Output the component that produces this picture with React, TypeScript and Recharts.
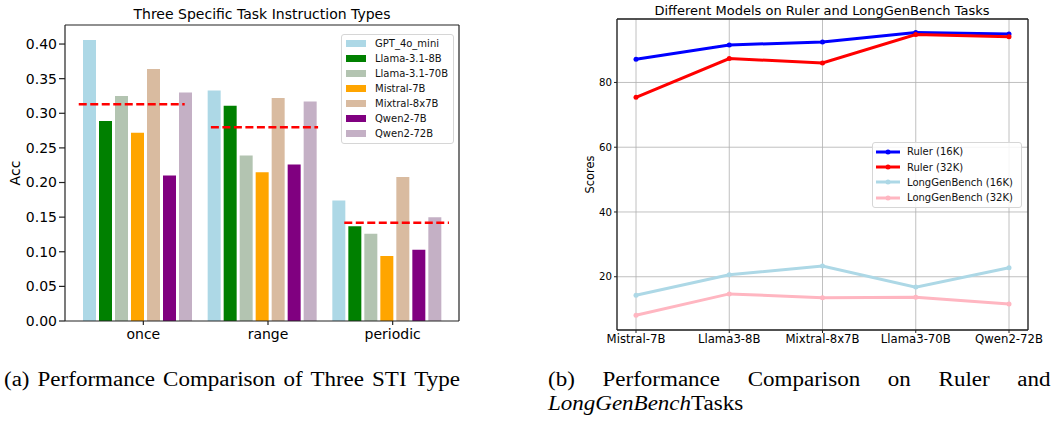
import React from 'react';
import {
  ComposedChart,
  Bar,
  Scatter,
  XAxis,
  YAxis,
  Legend,
  LineChart,
  Line,
  CartesianGrid,
} from 'recharts';

const FONT = '"DejaVu Sans", Verdana, sans-serif';
const SERIF = '"Liberation Serif", "Times New Roman", serif';
const SPINE = '#222';

// (a) accuracy for each STI type
const stiTypes = ['once', 'range', 'periodic'];
const stiModels = [
  'GPT_4o_mini',
  'Llama-3.1-8B',
  'Llama-3.1-70B',
  'Mistral-7B',
  'Mixtral-8x7B',
  'Qwen2-7B',
  'Qwen2-72B',
];
const stiColors = ['#add8e6', '#008000', '#b3c4b1', '#ffa500', '#d9bba0', '#800080', '#c4b0c5'];
const gpt4oMiniAcc = [0.406, 0.333, 0.174];
const llama8bAcc = [0.289, 0.311, 0.137];
const llama70bAcc = [0.325, 0.239, 0.126];
const mistral7bAcc = [0.272, 0.215, 0.094];
const mixtralAcc = [0.364, 0.322, 0.208];
const qwen7bAcc = [0.21, 0.226, 0.103];
const qwen72bAcc = [0.33, 0.317, 0.15];
const stiAverage = [0.313, 0.28, 0.142];
// where each average dash starts / ends, in category units
const avgFrom = [-0.47, 0.59, 1.66];
const avgTo = [0.38, 1.45, 2.51];
const accTicks = [0, 0.05, 0.1, 0.15, 0.2, 0.25, 0.3, 0.35, 0.4];

// (b) Ruler vs LongGenBench
const benchModels = ['Mistral-7B', 'Llama3-8B', 'Mixtral-8x7B', 'Llama3-70B', 'Qwen2-72B'];
const ruler16k = [87.2, 91.6, 92.5, 95.4, 95.0];
const ruler32k = [75.4, 87.4, 86.0, 94.8, 94.1];
const longGen16k = [14.3, 20.6, 23.3, 16.8, 22.8];
const longGen32k = [8.1, 14.7, 13.5, 13.7, 11.6];
const benchSeries = ['Ruler (16K)', 'Ruler (32K)', 'LongGenBench (16K)', 'LongGenBench (32K)'];
const benchColors = ['#0000ff', '#ff0000', '#add8e6', '#ffb6c1'];
const scoreTicks = [20, 40, 60, 80];

const stiValues = [gpt4oMiniAcc, llama8bAcc, llama70bAcc, mistral7bAcc, mixtralAcc, qwen7bAcc, qwen72bAcc];
const stiRows = stiTypes.map((type, i) => {
  const row: Record<string, string | number> = { type };
  stiValues.forEach((vals, j) => {
    row[`s${j}`] = vals[i];
  });
  return row;
});
const avgSegments = stiAverage.map((avg, i) => [
  { x: avgFrom[i], y: avg },
  { x: avgTo[i], y: avg },
]);

const benchValues = [ruler16k, ruler32k, longGen16k, longGen32k];
const benchRows = benchModels.map((model, i) => {
  const row: Record<string, string | number> = { model };
  benchValues.forEach((vals, j) => {
    row[`b${j}`] = vals[i];
  });
  return row;
});

const sideTitle = (text: string, dx: number, size: number) => (props: any) => {
  const vb = props.viewBox || {};
  const x = vb.x + dx;
  const y = vb.y + vb.height / 2;
  return (
    <text
      x={x}
      y={y}
      transform={`rotate(-90, ${x}, ${y})`}
      textAnchor="middle"
      dominantBaseline="central"
      fontSize={size}
      fontFamily={FONT}
      fill="#000"
    >
      {text}
    </text>
  );
};

// matplotlib put the tick a little right of the bar group centre
const ShiftedTick = (props: any) => {
  const { x, y, payload } = props;
  const tx = x + 6;
  return (
    <g>
      <line x1={tx} x2={tx} y1={y - 8} y2={y - 4} stroke={SPINE} strokeWidth={1.2} />
      <text x={tx} y={y} dy="0.71em" textAnchor="middle" fontSize={14} fontFamily={FONT} fill="#000">
        {payload.value}
      </text>
    </g>
  );
};

// frame axes (top / right spines) show only their line
const NoTick = () => <g />;

// keep legend rows in series order (recharts sorts them by name)
const inOrder = (payload: any[] = [], names: string[]) =>
  payload
    .filter((p) => names.includes(p.value))
    .sort((a, b) => names.indexOf(a.value) - names.indexOf(b.value));

const legendBox: React.CSSProperties = {
  boxSizing: 'border-box',
  border: '1px solid #d6d6d6',
  borderRadius: 3,
  background: 'rgba(255,255,255,0.85)',
  fontFamily: FONT,
  fontSize: 10,
  color: '#111',
};

const BarLegend = ({ payload }: any) => (
  <div style={{ ...legendBox, width: 113, padding: '1px 4px 2px 4px' }}>
    {inOrder(payload, stiModels).map((p: any) => (
      <div key={p.value} style={{ display: 'flex', alignItems: 'center', height: 15 }}>
        <span style={{ display: 'inline-block', width: 20, height: 7, background: p.color, marginRight: 9 }} />
        {p.value}
      </div>
    ))}
  </div>
);

const LineLegend = ({ payload }: any) => (
  <div style={{ ...legendBox, width: 150, padding: '1px 4px 1px 3px' }}>
    {inOrder(payload, benchSeries).map((p: any) => (
      <div key={p.value} style={{ display: 'flex', alignItems: 'center', height: 15.4 }}>
        <svg width={24} height={8} style={{ marginRight: 7 }}>
          <line x1={0} x2={24} y1={4} y2={4} stroke={p.color} strokeWidth={3} />
          <circle cx={12} cy={4} r={2.5} fill={p.color} />
        </svg>
        {p.value}
      </div>
    ))}
  </div>
);

const NoDot = () => <g />;

function StiChart() {
  return (
    <div style={{ position: 'absolute', left: 0, top: 0 }}>
      <ComposedChart
        width={480}
        height={345}
        data={stiRows}
        margin={{ top: 24, right: 20, bottom: 0, left: 10 }}
        barGap={3}
      >
        <XAxis
          dataKey="type"
          height={24}
          padding={{ left: 10, right: 10 }}
          tickLine={false}
          tickSize={3}
          tickMargin={5}
          tick={<ShiftedTick />}
          axisLine={{ stroke: SPINE, strokeWidth: 1.2 }}
        />
        <XAxis
          xAxisId="avg"
          dataKey="x"
          type="number"
          orientation="top"
          domain={[-0.5, 2.5]}
          ticks={[0, 1, 2]}
          padding={{ left: 10, right: 10 }}
          height={1}
          tick={<NoTick />}
          tickLine={false}
          axisLine={{ stroke: SPINE, strokeWidth: 1.2 }}
          allowDataOverflow
        />
        <YAxis
          width={55}
          domain={[0, 0.4275]}
          ticks={accTicks}
          tickFormatter={(v: number) => v.toFixed(2)}
          tick={{ fontSize: 14, fontFamily: FONT, fill: '#000' }}
          tickSize={6}
          tickMargin={2}
          tickLine={{ stroke: SPINE, strokeWidth: 1.2 }}
          axisLine={{ stroke: SPINE, strokeWidth: 1.2 }}
          label={{ content: sideTitle('Acc', 5, 14) }}
        />
        <YAxis
          yAxisId="frame"
          orientation="right"
          width={1}
          domain={[0, 0.4275]}
          ticks={accTicks}
          tick={<NoTick />}
          tickLine={false}
          axisLine={{ stroke: SPINE, strokeWidth: 1.2 }}
        />
        {stiModels.map((name, j) => (
          <Bar
            key={name}
            dataKey={`s${j}`}
            name={name}
            fill={stiColors[j]}
            barSize={13}
            isAnimationActive={false}
          />
        ))}
        {avgSegments.map((seg, i) => (
          <Scatter
            key={stiTypes[i]}
            name={`avg-${stiTypes[i]}`}
            data={seg}
            xAxisId="avg"
            dataKey="y"
            legendType="none"
            shape={<NoDot />}
            line={{ stroke: '#ff0000', strokeWidth: 2.5, strokeDasharray: '8 3.5' }}
            isAnimationActive={false}
          />
        ))}
        <Legend
          layout="vertical"
          align="center"
          verticalAlign="middle"
          content={<BarLegend />}
          wrapperStyle={{ left: 341, top: 34, width: 113 }}
        />
      </ComposedChart>
      <div
        style={{
          position: 'absolute',
          left: 62,
          top: 6,
          width: 400,
          textAlign: 'center',
          fontFamily: FONT,
          fontSize: 14,
          color: '#000',
        }}
      >
        Three Specific Task Instruction Types
      </div>
    </div>
  );
}

function BenchChart() {
  return (
    <div style={{ position: 'absolute', left: 540, top: 0 }}>
      <LineChart
        width={510}
        height={350}
        data={benchRows}
        margin={{ top: 18, right: 21, bottom: 0, left: 37 }}
      >
        <CartesianGrid stroke="#b0b0b0" strokeWidth={0.8} />
        <XAxis
          dataKey="model"
          height={20}
          padding={{ left: 19, right: 19 }}
          tick={{ fontSize: 11.7, fontFamily: FONT, fill: '#000' }}
          tickSize={3}
          tickMargin={2}
          tickLine={{ stroke: SPINE }}
          axisLine={{ stroke: SPINE, strokeWidth: 1.3 }}
        />
        <XAxis
          xAxisId="frame"
          dataKey="model"
          orientation="top"
          padding={{ left: 19, right: 19 }}
          height={1}
          tick={<NoTick />}
          tickLine={false}
          axisLine={{ stroke: SPINE, strokeWidth: 1.3 }}
        />
        <YAxis
          width={40}
          domain={[3.55, 99.6]}
          ticks={scoreTicks}
          allowDataOverflow
          tick={{ fontSize: 10.2, fontFamily: FONT, fill: '#000' }}
          tickSize={3}
          tickMargin={2}
          tickLine={{ stroke: SPINE }}
          axisLine={{ stroke: SPINE, strokeWidth: 1.3 }}
          label={{ content: sideTitle('Scores', 13, 11.4) }}
        />
        <YAxis
          yAxisId="frame"
          orientation="right"
          width={1}
          domain={[3.55, 99.6]}
          ticks={scoreTicks}
          allowDataOverflow
          tick={<NoTick />}
          tickLine={false}
          axisLine={{ stroke: SPINE, strokeWidth: 1.3 }}
        />
        {benchSeries.map((name, j) => (
          <Line
            key={name}
            type="linear"
            dataKey={`b${j}`}
            name={name}
            stroke={benchColors[j]}
            strokeWidth={3}
            dot={{ r: 2.5, fill: benchColors[j], stroke: benchColors[j], strokeWidth: 0 }}
            activeDot={false}
            isAnimationActive={false}
          />
        ))}
        <Legend
          layout="vertical"
          align="center"
          verticalAlign="middle"
          content={<LineLegend />}
          wrapperStyle={{ left: 332, top: 142, width: 150 }}
        />
      </LineChart>
      <div
        style={{
          position: 'absolute',
          left: 82,
          top: 3,
          width: 400,
          textAlign: 'center',
          fontFamily: FONT,
          fontSize: 13,
          color: '#000',
        }}
      >
        Different Models on Ruler and LongGenBench Tasks
      </div>
    </div>
  );
}

export default function App() {
  const caption: React.CSSProperties = {
    position: 'absolute',
    top: 367,
    fontFamily: SERIF,
    fontSize: 20,
    lineHeight: '24px',
    color: '#000',
    transform: 'scaleX(1.15)',
    transformOrigin: 'left top',
  };
  return (
    <div
      style={{
        position: 'absolute',
        left: 0,
        top: 0,
        width: 1054,
        height: 421,
        background: '#fff',
        overflow: 'hidden',
      }}
    >
      <StiChart />
      <BenchChart />
      <div style={{ ...caption, left: 4, whiteSpace: 'nowrap', wordSpacing: 2 }}>
        (a) Performance Comparison of Three STI Type
      </div>
      <div style={{ ...caption, left: 548, width: 437, textAlign: 'justify' }}>
        (b) Performance Comparison on Ruler and <i>LongGenBench</i>Tasks
      </div>
    </div>
  );
}
